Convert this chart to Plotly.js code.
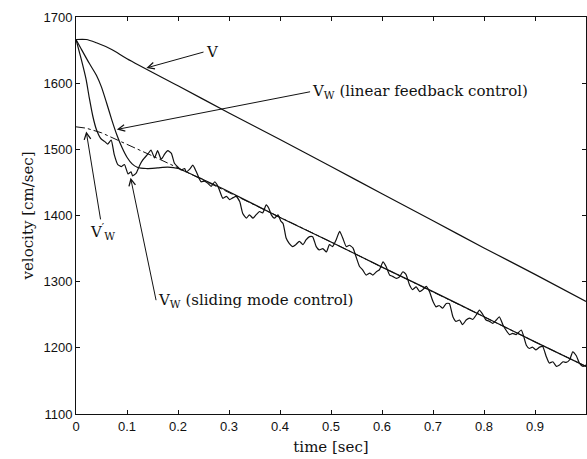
<!DOCTYPE html>
<html>
<head>
<meta charset="utf-8">
<script src="https://cdn.plot.ly/plotly-3.0.1.min.js"></script>
<style>html,body{margin:0;padding:0;background:#fff;}#chart{width:587px;height:459px;}</style>
</head>
<body>
<div id="chart"></div>
<script>
// ---- data ----
const tV = [0, 0.02, 0.04, 0.07, 0.1, 0.2, 0.3, 0.4, 0.5, 0.6, 0.7, 0.8, 0.9, 1.0];
const vV = [1666, 1666, 1661, 1651, 1637, 1596, 1555, 1515, 1474, 1433, 1392, 1351, 1311, 1270];

const tVwPrime = [0, 0.02, 0.05, 0.1, 0.15, 0.2, 0.3, 0.4, 0.5, 0.6, 0.7, 0.8, 0.9, 1.0];
const vVwPrime = [1534, 1532, 1525, 1508, 1490, 1472, 1435, 1397, 1360, 1322, 1285, 1247, 1209, 1172];

const tLinear = [0, 0.01, 0.026, 0.04, 0.05, 0.06, 0.07, 0.08, 0.09, 0.1, 0.11, 0.12, 0.138, 0.16, 0.18, 0.2, 0.25, 0.3, 0.4, 0.5, 0.6, 0.7, 0.8, 0.9, 1.0];
const vLinear = [1666, 1652, 1630, 1612, 1594, 1570, 1545, 1522, 1503, 1488, 1478, 1473, 1471, 1472, 1473, 1471, 1454, 1436, 1397, 1360, 1322, 1285, 1247, 1209, 1172];

const tSliding = [0,0.01,0.02,0.026,0.033,0.04,0.049,0.056,0.062,0.069,0.075,0.082,0.089,0.095,0.102,0.108,0.111,0.118,0.125,0.131,0.141,0.147,0.154,0.16,0.167,0.174,0.18,0.187,0.193,0.2,0.206,0.213,0.216,0.223,0.229,0.236,0.245,0.252,0.258,0.265,0.272,0.277,0.281,0.288,0.295,0.301,0.308,0.314,0.321,0.327,0.334,0.34,0.347,0.353,0.36,0.366,0.373,0.378,0.383,0.389,0.396,0.402,0.406,0.412,0.418,0.425,0.431,0.438,0.445,0.451,0.458,0.464,0.471,0.477,0.484,0.491,0.497,0.503,0.51,0.517,0.523,0.53,0.536,0.543,0.549,0.556,0.562,0.569,0.576,0.582,0.589,0.595,0.602,0.608,0.615,0.621,0.628,0.634,0.641,0.647,0.654,0.66,0.667,0.674,0.68,0.687,0.693,0.7,0.706,0.712,0.719,0.726,0.732,0.739,0.745,0.752,0.758,0.765,0.772,0.778,0.785,0.791,0.798,0.804,0.811,0.817,0.824,0.83,0.837,0.843,0.85,0.856,0.863,0.873,0.878,0.883,0.889,0.895,0.902,0.909,0.915,0.922,0.928,0.935,0.942,0.948,0.955,0.961,0.968,0.974,0.981,0.987,0.994,1.0];
const vSliding = [1666,1637,1605,1578,1550,1530,1516,1512,1508,1514,1492,1477,1474,1477,1463,1466,1460,1464,1476,1484,1493,1499,1487,1498,1485,1493,1498,1494,1479,1473,1469,1471,1466,1470,1476,1466,1451,1452,1449,1444,1451,1446,1439,1426,1429,1424,1427,1429,1421,1403,1396,1401,1396,1401,1406,1404,1416,1411,1401,1396,1401,1391,1388,1366,1358,1353,1356,1361,1356,1363,1368,1368,1353,1348,1350,1345,1356,1353,1363,1376,1366,1353,1355,1351,1338,1323,1318,1310,1313,1310,1315,1318,1330,1323,1310,1308,1305,1307,1315,1311,1295,1288,1292,1285,1288,1293,1285,1270,1262,1264,1260,1267,1267,1247,1240,1242,1235,1242,1245,1243,1250,1257,1250,1242,1240,1237,1242,1247,1235,1227,1220,1222,1220,1227,1217,1204,1199,1201,1197,1201,1202,1187,1177,1179,1172,1174,1179,1178,1182,1194,1188,1177,1172,1174];

const xTickVals = [0, 0.1, 0.2, 0.3, 0.4, 0.5, 0.6, 0.7, 0.8, 0.9, 1];
const xTickText = ['0', '0.1', '0.2', '0.3', '0.4', '0.5', '0.6', '0.7', '0.8', '0.9', '1'];
const yTickVals = [1100, 1200, 1300, 1400, 1500, 1600, 1700];

// ---- chart ----
const traces = [
  {x: tV, y: vV, mode: 'lines', name: 'V', line: {color: '#111', width: 1.2, shape: 'spline', smoothing: 0.8}},
  {x: tVwPrime, y: vVwPrime, mode: 'lines', name: "V'w", line: {color: '#111', width: 1, dash: 'dashdot'}},
  {x: tLinear, y: vLinear, mode: 'lines', name: 'Vw linear', line: {color: '#111', width: 1.2, shape: 'spline', smoothing: 0.6}},
  {x: tSliding, y: vSliding, mode: 'lines', name: 'Vw sliding', line: {color: '#111', width: 1.2, shape: 'spline', smoothing: 0.5}}
];

const serif = {family: 'DejaVu Serif, serif', size: 15, color: '#111'};
function note(hx, hy, tx, ty, txt, anchor) {
  return {x: hx, y: hy, ax: tx, ay: ty, xref: 'x', yref: 'y', axref: 'x', ayref: 'y',
          text: txt, xanchor: anchor, yanchor: 'middle', font: serif, borderpad: 1,
          showarrow: true, arrowhead: 5, arrowsize: 1.3, arrowwidth: 1, arrowcolor: '#111', standoff: 0, startstandoff: 0};
}

const layout = {
  width: 587, height: 459,
  margin: {l: 76, r: 1, t: 17, b: 45},
  paper_bgcolor: '#fff', plot_bgcolor: '#fff',
  showlegend: false,
  font: {family: 'Liberation Sans, Arial, sans-serif', size: 13, color: '#111'},
  xaxis: {
    range: [0, 1], tickvals: xTickVals, ticktext: xTickText,
    ticks: 'inside', ticklen: 4, tickcolor: '#111', tickwidth: 1,
    showline: true, linecolor: '#111', linewidth: 1, mirror: 'ticks',
    showgrid: false, zeroline: false,
    tickfont: {family: 'Liberation Sans, Arial, sans-serif', size: 13, color: '#111'},
    title: {text: 'time [sec]', font: serif, standoff: 8}
  },
  yaxis: {
    range: [1100, 1700], tickvals: yTickVals,
    ticks: 'inside', ticklen: 4, tickcolor: '#111', tickwidth: 1,
    showline: true, linecolor: '#111', linewidth: 1, mirror: 'ticks',
    showgrid: false, zeroline: false,
    tickfont: {family: 'Liberation Sans, Arial, sans-serif', size: 13, color: '#111'},
    title: {text: 'velocity [cm/sec]', font: serif, standoff: 6}
  },
  annotations: [
    note(0.138, 1623, 0.250, 1647, 'V', 'left'),
    note(0.08, 1530, 0.459, 1587, 'V<sub>W</sub> (linear feedback control)', 'left'),
    note(0.02, 1527, 0.052, 1376, 'V<sup>′</sup><sub>W</sub>', 'center'),
    note(0.107, 1457, 0.157, 1272, 'V<sub>W</sub> (sliding mode control)', 'left')
  ]
};

Plotly.newPlot('chart', traces, layout, {staticPlot: true, displayModeBar: false});
</script>
</body>
</html>
